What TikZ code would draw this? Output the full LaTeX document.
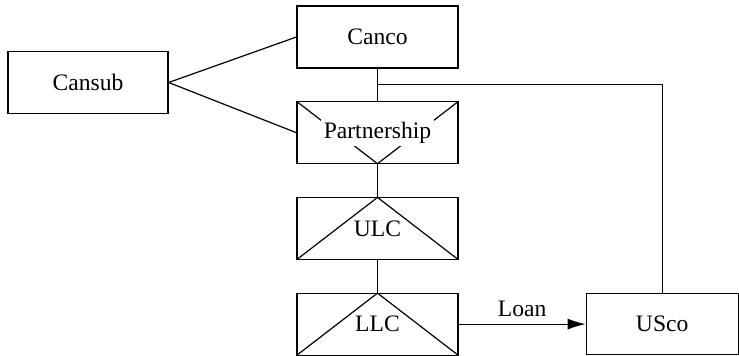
\documentclass[tikz,border=0pt]{standalone}
\usepackage{fontspec}
\setmainfont{Liberation Serif}
\usetikzlibrary{positioning,arrows.meta}
\setlength{\fboxsep}{1.5pt}
\begin{document}
\begin{tikzpicture}[x=0.5pt, y=-0.5pt, line width=0.6pt, node distance=16.25pt,
    every node/.style={font=\fontsize{11.8}{14}\selectfont},
    entity/.style={draw, rectangle, inner sep=0pt, minimum width=80.5pt, minimum height=31pt},
    partnerbox/.style={entity, path picture={\draw (path picture bounding box.north west) -- (path picture bounding box.south) -- (path picture bounding box.north east);}},
    hybridbox/.style={entity, path picture={\draw (path picture bounding box.south west) -- (path picture bounding box.north) -- (path picture bounding box.south east);}}]
\useasboundingbox (0,0) rectangle (739,355);
\node[entity] (canco) at (377.5,37) {Canco};
\node[entity, minimum width=80pt] (cansub) at (88,82.5) {Cansub};
\node[partnerbox] (part) [below=of canco] {\colorbox{white}{Partnership}};
\node[hybridbox] (ulc) [below=of part] {ULC};
\node[hybridbox] (llc) [below=of ulc] {LLC};
\node[entity, minimum width=76pt, minimum height=30.5pt] (usco) [right=63.5pt of llc] {USco};
% ownership lines
\draw (cansub.east) -- (canco.west);
\draw (cansub.east) -- (part.west);
\draw (canco) -- coordinate (branch) (part);
\draw (part) -- (ulc);
\draw (ulc) -- (llc);
\draw (branch) -| (usco.north);
% loan
\draw[-{Latex[length=9pt,width=5.5pt]}] (llc) -- node[above] {Loan} (usco);
\end{tikzpicture}
\end{document}
